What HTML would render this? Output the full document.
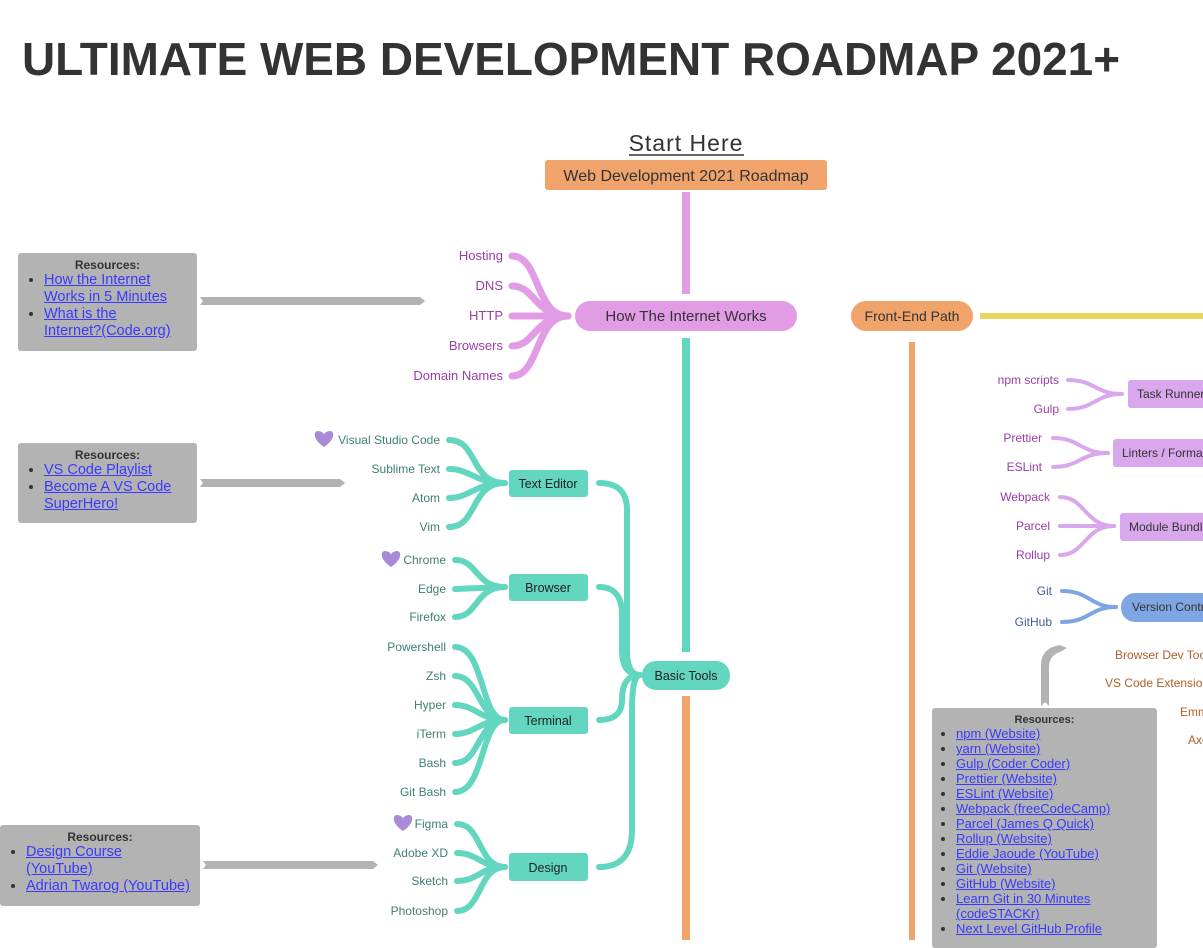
<!DOCTYPE html>
<html><head><meta charset="utf-8"><style>
html,body{margin:0;padding:0;background:#fff;width:1203px;height:940px;overflow:hidden}
svg{position:absolute;left:0;top:0}
text{font-family:"Liberation Sans",sans-serif}
.res{position:absolute;background:#b3b3b3;border-radius:3px;font-family:"Liberation Sans",sans-serif;font-size:14.5px;color:#333}
.res h4{margin:0;text-align:center;font-size:12px;font-weight:bold;padding-top:5px}
.res ul{margin:0;padding-left:26px}
.res li{line-height:17px}
.res a{color:#3a3aff;text-decoration:underline}
</style></head><body>
<svg width="1203" height="940" viewBox="0 0 1203 940">
<text x="22" y="75" font-size="46" font-weight="bold" fill="#333" textLength="1098" lengthAdjust="spacingAndGlyphs">ULTIMATE WEB DEVELOPMENT ROADMAP 2021+</text>
<text x="686" y="151" font-size="23" fill="#333" text-anchor="middle" letter-spacing="1">Start Here</text>
<line x1="629" y1="155" x2="744" y2="155" stroke="#333" stroke-width="1.5"/>
<rect x="545" y="160" width="282" height="30" rx="3" fill="#f0a46c"/>
<text x="686" y="181" font-size="16" fill="#333" text-anchor="middle">Web Development 2021 Roadmap</text>
<line x1="686" y1="192" x2="686" y2="294" stroke="#e29ce6" stroke-width="8"/>
<line x1="686" y1="338" x2="686" y2="652" stroke="#62d6bf" stroke-width="8"/>
<line x1="686" y1="696" x2="686" y2="940" stroke="#f0a46c" stroke-width="8"/>
<line x1="912" y1="342" x2="912" y2="940" stroke="#f0a46c" stroke-width="6"/>
<line x1="980" y1="316" x2="1203" y2="316" stroke="#e8d55a" stroke-width="6"/>
<g fill="none" stroke="#e29ce6" stroke-width="7" stroke-linecap="round">
<path d="M512,256 C540,256 535,316 568,316"/>
<path d="M512,286 C535,286 535,316 568,316"/>
<path d="M512,316 L568,316"/>
<path d="M512,346 C535,346 535,316 568,316"/>
<path d="M512,376 C540,376 535,316 568,316"/>
</g>
<rect x="575" y="301" width="222" height="30" rx="15" fill="#e29ce6"/>
<text x="686" y="321" font-size="15" fill="#333" text-anchor="middle">How The Internet Works</text>
<g font-size="13" fill="#9b3da8" text-anchor="end">
<text x="503" y="260">Hosting</text><text x="503" y="290">DNS</text><text x="503" y="320">HTTP</text><text x="503" y="350">Browsers</text><text x="503" y="380">Domain Names</text>
</g>
<g fill="none" stroke="#62d6bf" stroke-width="6" stroke-linecap="round">
<path d="M449,440 C478,440 470,483 505,483"/><path d="M449,469 C470,469 475,483 505,483"/><path d="M449,498 C470,498 475,483 505,483"/><path d="M449,527 C478,527 470,483 505,483"/>
<path d="M455,560 C478,560 475,587 505,587"/><path d="M455,589 L505,587"/><path d="M455,617 C478,617 475,587 505,587"/>
<path d="M455,647 C485,647 480,720 505,720"/><path d="M455,676 C480,676 478,720 505,720"/><path d="M455,705 C475,705 480,720 505,720"/><path d="M455,734 C475,734 480,720 505,720"/><path d="M455,763 C480,763 478,720 505,720"/><path d="M455,792 C485,792 480,720 505,720"/>
<path d="M457,824 C482,824 478,867 505,867"/><path d="M457,853 C478,853 480,867 505,867"/><path d="M457,881 C478,881 480,867 505,867"/><path d="M457,911 C482,911 478,867 505,867"/>
<path d="M599,483 Q627,483 627,510 L627,650 Q627,675 640,675"/>
<path d="M599,587 Q622,587 622,615 L622,650 Q622,675 640,675"/>
<path d="M599,720 Q622,720 622,700 Q622,675 640,675"/>
<path d="M599,867 Q632,867 632,830 L632,710 Q632,675 640,675"/>
</g>
<g fill="#62d6bf">
<rect x="509" y="470" width="79" height="27" rx="3"/>
<rect x="509" y="574" width="79" height="27" rx="3"/>
<rect x="509" y="707" width="79" height="27" rx="3"/>
<rect x="509" y="853" width="79" height="28" rx="3"/>
<rect x="642" y="661" width="88" height="29" rx="14"/>
</g>
<g font-size="12.5" fill="#222" text-anchor="middle">
<text x="548" y="488">Text Editor</text><text x="548" y="592">Browser</text><text x="548" y="725">Terminal</text><text x="548" y="872">Design</text><text x="686" y="680">Basic Tools</text>
</g>
<g font-size="12" fill="#3f7f74" text-anchor="end">
<text x="440" y="444">Visual Studio Code</text><text x="440" y="473">Sublime Text</text><text x="440" y="502">Atom</text><text x="440" y="531">Vim</text>
<text x="446" y="564">Chrome</text><text x="446" y="593">Edge</text><text x="446" y="621">Firefox</text>
<text x="446" y="651">Powershell</text><text x="446" y="680">Zsh</text><text x="446" y="709">Hyper</text><text x="446" y="738">iTerm</text><text x="446" y="767">Bash</text><text x="446" y="796">Git Bash</text>
<text x="448" y="828">Figma</text><text x="448" y="857">Adobe XD</text><text x="448" y="885">Sketch</text><text x="448" y="915">Photoshop</text>
</g>
<g fill="#a88ad8">
<path d="M324,447 C313,440 313,431 318,431 C321,431 324,433 324,435 C324,433 327,431 330,431 C335,431 335,440 324,447Z"/>
<path d="M391,567 C380,560 380,551 385,551 C388,551 391,553 391,555 C391,553 394,551 397,551 C402,551 402,560 391,567Z"/>
<path d="M403,831 C392,824 392,815 397,815 C400,815 403,817 403,819 C403,817 406,815 409,815 C414,815 414,824 403,831Z"/>
</g>
<g fill="#b3b3b3">
<polygon points="200,297 420,297 425,301 420,305 200,305 203,301"/>
<polygon points="200,479 340,479 345,483 340,487 200,487 203,483"/>
<polygon points="203,861 373,861 378,865 373,869 203,869 206,865"/>
<path d="M1041,706 L1041,665 Q1041,648 1060,645 L1067,648 L1060,652 Q1049,655 1049,668 L1049,706 L1045,702Z"/>
</g>
<rect x="851" y="301" width="122" height="30" rx="15" fill="#f0a46c"/>
<text x="912" y="321" font-size="14" fill="#333" text-anchor="middle">Front-End Path</text>
<g fill="none" stroke="#d9a8ec" stroke-width="4" stroke-linecap="round">
<path d="M1068,380 C1095,380 1095,394 1122,394"/><path d="M1068,409 C1095,409 1095,394 1122,394"/>
<path d="M1053,438 C1080,438 1080,453 1108,453"/><path d="M1053,467 C1080,467 1080,453 1108,453"/>
<path d="M1060,497 C1085,497 1085,526 1114,526"/><path d="M1060,526 L1114,526"/><path d="M1060,555 C1085,555 1085,526 1114,526"/>
</g>
<g fill="none" stroke="#7ea6e4" stroke-width="4" stroke-linecap="round">
<path d="M1062,591 C1090,591 1090,607 1116,607"/><path d="M1062,622 C1090,622 1090,607 1116,607"/>
</g>
<g fill="#d9a8ec">
<rect x="1128" y="380" width="90" height="28" rx="3"/>
<rect x="1113" y="439" width="110" height="28" rx="3"/>
<rect x="1120" y="513" width="100" height="28" rx="3"/>
</g>
<rect x="1121" y="593" width="110" height="29" rx="14" fill="#7ea6e4"/>
<g font-size="12" fill="#333">
<text x="1137" y="398">Task Runners</text><text x="1122" y="457">Linters / Formatters</text><text x="1129" y="531">Module Bundlers</text><text x="1132" y="611">Version Control</text>
</g>
<g font-size="12" fill="#9b3da8" text-anchor="end">
<text x="1059" y="384">npm scripts</text><text x="1059" y="413">Gulp</text>
<text x="1042" y="442">Prettier</text><text x="1042" y="471">ESLint</text>
<text x="1050" y="501">Webpack</text><text x="1050" y="530">Parcel</text><text x="1050" y="559">Rollup</text>
</g>
<g font-size="12" fill="#3c5f9a" text-anchor="end"><text x="1052" y="595">Git</text><text x="1052" y="626">GitHub</text></g>
<g font-size="12" fill="#b0602a">
<text x="1115" y="659">Browser Dev Tools</text><text x="1105" y="687">VS Code Extensions</text><text x="1180" y="716">Emmet</text><text x="1188" y="744">Axe</text>
</g>
</svg>
<div class="res" style="left:18px;top:253px;width:179px;height:98px"><h4>Resources:</h4><ul><li><a>How the Internet<br>Works in 5 Minutes</a></li><li><a>What is the<br>Internet?(Code.org)</a></li></ul></div>
<div class="res" style="left:18px;top:443px;width:179px;height:80px"><h4>Resources:</h4><ul><li><a>VS Code Playlist</a></li><li><a>Become A VS Code<br>SuperHero!</a></li></ul></div>
<div class="res" style="left:0;top:825px;width:200px;height:81px"><h4>Resources:</h4><ul><li><a>Design Course<br>(YouTube)</a></li><li><a>Adrian Twarog (YouTube)</a></li></ul></div>
<div class="res" style="left:932px;top:708px;width:225px;height:240px;font-size:13px"><h4 style="font-size:11px;padding-top:6px">Resources:</h4><ul style="padding-left:24px"><li style="line-height:15px"><a>npm (Website)</a></li><li style="line-height:15px"><a>yarn (Website)</a></li><li style="line-height:15px"><a>Gulp (Coder Coder)</a></li><li style="line-height:15px"><a>Prettier (Website)</a></li><li style="line-height:15px"><a>ESLint (Website)</a></li><li style="line-height:15px"><a>Webpack (freeCodeCamp)</a></li><li style="line-height:15px"><a>Parcel (James Q Quick)</a></li><li style="line-height:15px"><a>Rollup (Website)</a></li><li style="line-height:15px"><a>Eddie Jaoude (YouTube)</a></li><li style="line-height:15px"><a>Git (Website)</a></li><li style="line-height:15px"><a>GitHub (Website)</a></li><li style="line-height:15px"><a>Learn Git in 30 Minutes<br>(codeSTACKr)</a></li><li style="line-height:15px"><a>Next Level GitHub Profile</a></li></ul></div>
</body></html>
